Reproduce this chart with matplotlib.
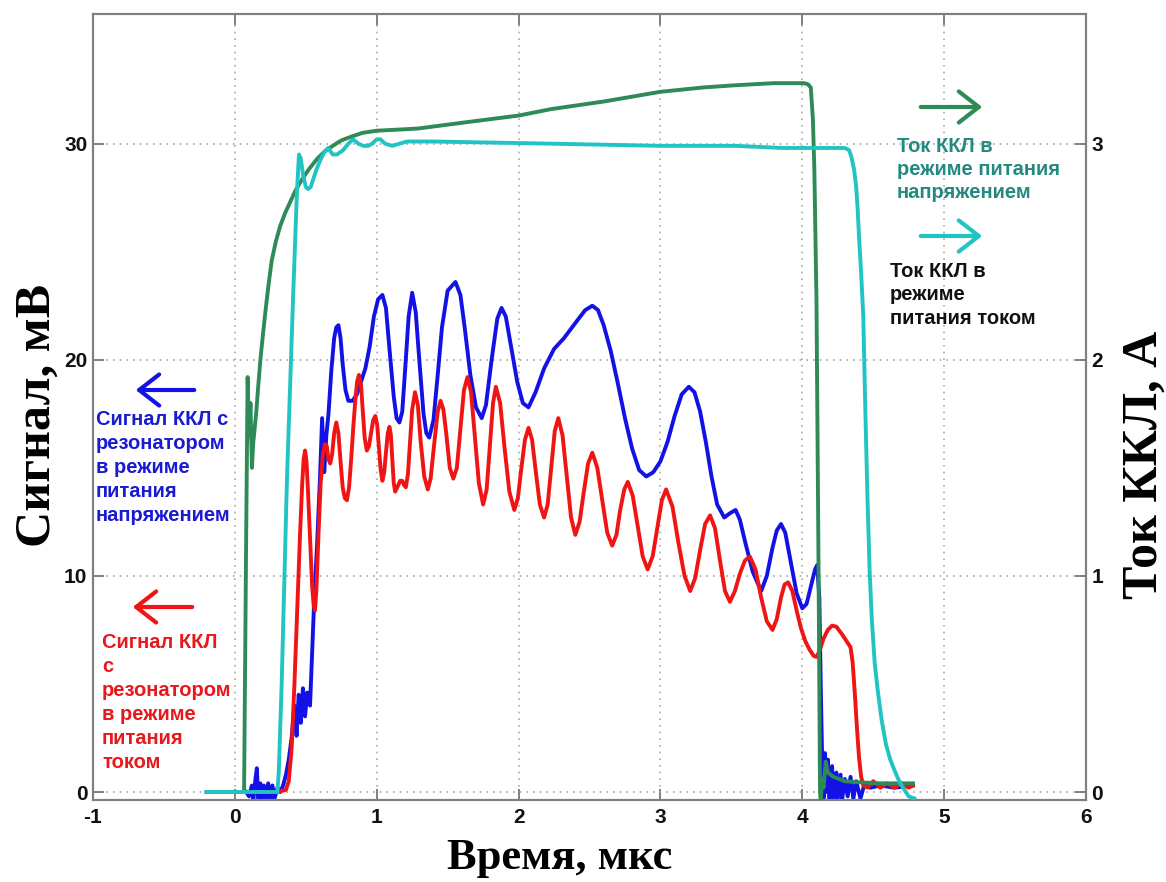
import matplotlib
matplotlib.use("Agg")
import matplotlib.pyplot as plt
from matplotlib.patches import FancyArrowPatch

plt.rcParams["axes.unicode_minus"] = False
W, H = 1166, 882

# signal, voltage-driven QCL with resonator (mV)
blue_t = [0.08, 0.10, 0.12, 0.13, 0.145, 0.155, 0.165, 0.18, 0.19, 0.205, 0.22, 0.235, 0.25, 0.265,
          0.28, 0.30, 0.32, 0.34, 0.36, 0.38, 0.40, 0.42, 0.435, 0.45, 0.465, 0.48, 0.495, 0.51,
          0.53, 0.545, 0.56, 0.58, 0.60, 0.615, 0.63, 0.645, 0.66, 0.68, 0.70, 0.715, 0.73, 0.745,
          0.76, 0.78, 0.80, 0.83, 0.86, 0.89, 0.92, 0.95, 0.98, 1.01, 1.04, 1.065, 1.09, 1.12,
          1.14, 1.16, 1.18, 1.20, 1.225, 1.25, 1.275, 1.30, 1.33, 1.35, 1.37, 1.40, 1.43, 1.46,
          1.50, 1.555, 1.59, 1.62, 1.66, 1.70, 1.74, 1.77, 1.81, 1.85, 1.88, 1.91, 1.95, 1.99,
          2.03, 2.07, 2.12, 2.18, 2.25, 2.32, 2.40, 2.47, 2.52, 2.56, 2.60, 2.65, 2.70, 2.75,
          2.80, 2.85, 2.90, 2.95, 3.00, 3.05, 3.10, 3.15, 3.20, 3.24, 3.28, 3.32, 3.36, 3.40,
          3.45, 3.49, 3.53, 3.56, 3.60, 3.65, 3.71, 3.75, 3.79, 3.82, 3.85, 3.88, 3.92, 3.96,
          4.00, 4.03, 4.06, 4.09, 4.105, 4.12, 4.13, 4.14, 4.15, 4.16, 4.17, 4.18, 4.19, 4.21,
          4.22, 4.24, 4.25, 4.27, 4.28, 4.30, 4.32, 4.34, 4.36, 4.38, 4.41, 4.44, 4.48, 4.55,
          4.65, 4.78]
blue_v = [0.0, -0.2, 0.3, -0.4, 0.6, 1.1, -0.3, 0.4, -0.4, 0.3, -0.3, 0.4, -0.4, 0.3,
          -0.3, 0.2, 0.0, 0.3, 0.8, 1.5, 2.5, 4.0, 2.6, 4.5, 3.2, 4.8, 3.5, 4.6,
          4.0, 6.5, 9.0, 11.5, 14.5, 17.3, 14.8, 16.5, 17.5, 19.5, 21.0, 21.5, 21.6, 21.0,
          19.8, 18.6, 18.1, 18.1, 18.4, 19.0, 19.6, 20.6, 22.0, 22.8, 23.0, 22.4, 20.5, 18.3,
          17.3, 17.1, 17.6, 19.5, 22.0, 23.1, 22.2, 20.0, 17.5, 16.6, 16.4, 17.2, 19.3, 21.5,
          23.2, 23.6, 23.0, 21.5, 19.3, 17.8, 17.3, 17.9, 20.0, 21.9, 22.4, 22.0, 20.5, 19.0,
          18.0, 17.8, 18.5, 19.6, 20.5, 21.0, 21.7, 22.3, 22.5, 22.3, 21.6, 20.4, 18.9, 17.3,
          15.9, 14.9, 14.6, 14.8, 15.3, 16.2, 17.4, 18.4, 18.75, 18.5, 17.6, 16.2, 14.6, 13.3,
          12.7, 12.9, 13.05, 12.6, 11.5, 10.2, 9.3, 10.0, 11.3, 12.1, 12.4, 12.0, 10.6, 9.2,
          8.5, 8.7, 9.5, 10.3, 10.5, 9.0, 5.0, 1.5, -0.3, 1.8, 0.0, 1.5, -0.4, 1.2,
          -0.5, 0.9, -0.3, 0.8, -0.4, 0.6, -0.2, 0.7, -0.3, 0.5, -0.3, 0.4, 0.2, 0.3,
          0.2, 0.3]

# signal, current-driven QCL with resonator (mV)
red_t = [0.0, 0.30, 0.36, 0.38, 0.40, 0.42, 0.44, 0.46, 0.475, 0.485, 0.495, 0.505, 0.515, 0.53,
         0.545, 0.556, 0.565, 0.575, 0.59, 0.605, 0.62, 0.635, 0.648, 0.66, 0.672, 0.685, 0.70,
         0.715, 0.73, 0.745, 0.76, 0.775, 0.79, 0.805, 0.82, 0.835, 0.85, 0.862, 0.875, 0.89,
         0.90, 0.915, 0.93, 0.945, 0.96, 0.975, 0.99, 1.003, 1.015, 1.028, 1.04, 1.053, 1.065,
         1.078, 1.09, 1.10, 1.11, 1.12, 1.13, 1.145, 1.165, 1.18, 1.193, 1.205, 1.22, 1.235,
         1.25, 1.27, 1.29, 1.31, 1.335, 1.36, 1.38, 1.405, 1.43, 1.45, 1.47, 1.49, 1.515, 1.54,
         1.565, 1.59, 1.615, 1.64, 1.665, 1.69, 1.72, 1.75, 1.775, 1.80, 1.82, 1.84, 1.87, 1.90,
         1.935, 1.97, 1.995, 2.02, 2.045, 2.07, 2.095, 2.12, 2.15, 2.18, 2.205, 2.23, 2.255,
         2.28, 2.31, 2.34, 2.37, 2.40, 2.43, 2.46, 2.49, 2.52, 2.555, 2.59, 2.625, 2.66, 2.69,
         2.715, 2.745, 2.77, 2.805, 2.84, 2.875, 2.91, 2.945, 2.98, 3.01, 3.04, 3.085, 3.125,
         3.17, 3.21, 3.245, 3.28, 3.315, 3.35, 3.385, 3.42, 3.455, 3.49, 3.525, 3.56, 3.595,
         3.63, 3.67, 3.71, 3.75, 3.79, 3.82, 3.85, 3.875, 3.90, 3.93, 3.96, 3.99, 4.02, 4.05,
         4.08, 4.10, 4.12, 4.15, 4.18, 4.21, 4.24, 4.28, 4.31, 4.34, 4.355, 4.37, 4.385, 4.40,
         4.415, 4.43, 4.46, 4.50, 4.55, 4.60, 4.65, 4.70, 4.75, 4.78]
red_v = [0.0, 0.0, 0.1, 0.5, 2.0, 5.0, 8.5, 12.0, 14.3, 15.4, 15.8, 15.3, 14.0, 11.8,
         9.5, 8.6, 8.4, 9.4, 12.0, 14.3, 15.6, 16.1, 16.0, 15.4, 15.2, 15.6, 16.6,
         17.1, 16.6, 15.3, 14.1, 13.6, 13.5, 14.1, 15.4, 16.9, 18.2, 19.0, 19.3, 18.8,
         17.8, 16.4, 15.8, 16.0, 16.6, 17.2, 17.4, 17.0, 16.0, 14.9, 14.4, 14.8, 15.7,
         16.6, 16.9, 16.5, 15.4, 14.3, 13.9, 14.1, 14.4, 14.4, 14.2, 14.1, 14.7, 16.2,
         17.7, 18.5, 17.9, 16.2, 14.6, 14.0, 14.5, 16.1, 17.6, 18.1, 17.7, 16.6, 15.0, 14.5,
         15.0, 16.8, 18.6, 19.2, 18.5, 16.6, 14.3, 13.3, 14.0, 16.2, 18.0, 18.75, 18.0, 16.0,
         13.9, 13.05, 13.6, 15.0, 16.3, 16.85, 16.3, 14.9, 13.3, 12.7, 13.3, 15.0, 16.7,
         17.3, 16.5, 14.6, 12.7, 11.9, 12.5, 13.9, 15.2, 15.7, 15.0, 13.5, 12.0, 11.4, 11.9,
         13.0, 14.0, 14.35, 13.7, 12.3, 10.9, 10.3, 10.9, 12.3, 13.5, 14.0, 13.2, 11.6,
         10.0, 9.3, 9.9, 11.2, 12.4, 12.8, 12.2, 10.7, 9.3, 8.8, 9.3, 10.1, 10.7,
         10.9, 10.3, 9.0, 7.9, 7.5, 8.0, 9.0, 9.6, 9.7, 9.3, 8.4, 7.6, 7.0, 6.6,
         6.3, 6.25, 6.5, 7.1, 7.5, 7.7, 7.65, 7.3, 7.0, 6.7, 6.0, 4.6, 3.0, 1.6,
         0.7, 0.3, 0.2, 0.5, 0.2, 0.4, 0.2, 0.4, 0.2, 0.3]

# QCL current, voltage-driven mode (A)
green_t = [-0.2, 0.065, 0.08, 0.09, 0.10, 0.11, 0.12, 0.13, 0.15, 0.165, 0.18, 0.20, 0.22, 0.24,
           0.26, 0.29, 0.32, 0.355, 0.39, 0.425, 0.46, 0.52, 0.58, 0.635, 0.69, 0.75, 0.81, 0.9,
           1.0, 1.15, 1.29, 1.64, 2.0, 2.23, 2.6, 3.0, 3.3, 3.52, 3.8, 4.01, 4.04, 4.06,
           4.075, 4.085, 4.10, 4.115, 4.125, 4.13, 4.14, 4.15, 4.165, 4.18, 4.22, 4.30, 4.40,
           4.55, 4.78]
green_i = [0.0, 0.0, 1.2, 1.92, 1.65, 1.8, 1.5, 1.62, 1.75, 1.88, 2.0, 2.13, 2.25, 2.36,
           2.46, 2.55, 2.62, 2.68, 2.73, 2.78, 2.82, 2.88, 2.93, 2.965, 2.99, 3.015, 3.03, 3.05,
           3.06, 3.065, 3.07, 3.10, 3.13, 3.16, 3.195, 3.24, 3.26, 3.27, 3.28, 3.28, 3.275, 3.26,
           3.11, 2.88, 2.28, 1.0, 0.0, -0.04, 0.06, 0.02, 0.14, 0.09, 0.07, 0.05, 0.045,
           0.04, 0.04]

# QCL current, current-driven mode (A)
cyan_t = [-0.2, 0.30, 0.31, 0.33, 0.367, 0.41, 0.425, 0.438, 0.452, 0.465, 0.48, 0.50, 0.516,
          0.535, 0.55, 0.575, 0.60, 0.63, 0.657, 0.69, 0.72, 0.763, 0.80, 0.834, 0.87, 0.905,
          0.94, 0.968, 1.0, 1.025, 1.06, 1.11, 1.16, 1.215, 1.4, 2.23, 3.0, 3.52, 3.87, 4.30,
          4.33, 4.346, 4.365, 4.38, 4.39, 4.40, 4.415, 4.43, 4.445, 4.46, 4.475, 4.49, 4.51,
          4.53, 4.56, 4.59, 4.62, 4.65, 4.69, 4.72, 4.75, 4.79]
cyan_i = [0.0, 0.0, 0.1, 0.5, 1.44, 2.28, 2.55, 2.78, 2.95, 2.93, 2.86, 2.80, 2.79,
          2.80, 2.83, 2.88, 2.92, 2.96, 2.98, 2.95, 2.95, 2.97, 3.0, 3.02, 3.0, 2.99,
          2.99, 3.0, 3.02, 3.02, 3.0, 2.99, 3.0, 3.01, 3.01, 3.0, 2.99, 2.99, 2.98, 2.98,
          2.97, 2.94, 2.88, 2.80, 2.70, 2.57, 2.40, 2.2, 1.75, 1.35, 1.02, 0.8, 0.6,
          0.48, 0.33, 0.22, 0.15, 0.10, 0.04, 0.01, -0.02, -0.03]

x_ticks = [-1, 0, 1, 2, 3, 4, 5, 6]
left_ticks = [0, 10, 20, 30]
right_ticks = [0, 1, 2, 3]

BLUE = "#1212e6"
RED = "#f01414"
GREEN = "#2e8b57"
CYAN = "#22c3c3"
SPINE = "#808080"
SANS = "Liberation Sans"
SERIF = "Liberation Serif"

fig = plt.figure(figsize=(W / 100, H / 100), dpi=100)
ax = fig.add_axes([93 / W, 1 - 800 / H, (1086 - 93) / W, (800 - 14) / H])
ax2 = ax.twinx()

ax.plot(blue_t, blue_v, color=BLUE, lw=2.8, zorder=3)
ax.plot(red_t, red_v, color=RED, lw=2.8, zorder=4)
ax2.plot(green_t, green_i, color=GREEN, lw=2.8, zorder=3)
ax2.plot(cyan_t, cyan_i, color=CYAN, lw=2.8, zorder=4)

ylo, yhi = -0.37, 36.0
ax.set_xlim(-1, 6)
ax.set_ylim(ylo, yhi)
ax2.set_ylim(ylo / 10, yhi / 10)
ax.set_xticks(x_ticks)
ax.set_yticks(left_ticks)
ax2.set_yticks(right_ticks)
ax.grid(True, color="#a8a8a8", ls=(0, (1, 3)), lw=1.2)

for a in (ax, ax2):
    for s in a.spines.values():
        s.set_color(SPINE)
        s.set_linewidth(1.5)
    a.tick_params(direction="in", length=8, width=1.4, color=SPINE, pad=4,
                  labelsize=15, labelcolor="#111111")
    for lab in a.get_xticklabels() + a.get_yticklabels():
        lab.set_fontfamily(SANS)
        lab.set_fontweight("bold")
ax.tick_params(top=True, right=False)
ax.tick_params(axis="x", pad=6)

# axis titles placed where the original has them
fig.text(560 / W, 1 - 858 / H, "Время, мкс", family=SERIF, weight="bold", fontsize=32,
         ha="center", va="center")
fig.text(38 / W, 1 - 415 / H, "Сигнал, мВ", family=SERIF, weight="bold", fontsize=36,
         ha="center", va="center", rotation=90)
fig.text(1145 / W, 1 - 465 / H, "Ток ККЛ, А", family=SERIF, weight="bold", fontsize=36,
         ha="center", va="center", rotation=90)


def arrow(x0, x1, y, color):
    fig.add_artist(FancyArrowPatch(
        (x0 / W, 1 - y / H), (x1 / W, 1 - y / H), transform=fig.transFigure,
        arrowstyle="->,head_length=9,head_width=7", mutation_scale=1.6, lw=3, color=color))


def label(x, y, s, color, ls=1.34):
    fig.text(x / W, 1 - y / H, s, color=color, family=SANS, weight="bold",
             fontsize=14.5, ha="left", va="top", linespacing=ls)


arrow(197, 133, 390, BLUE)
label(96, 410, "Сигнал ККЛ с\nрезонатором\nв режиме\nпитания\nнапряжением", "#1a1ad2")
arrow(195, 130, 607, RED)
label(102, 633, "Сигнал ККЛ\nс\nрезонатором\nв режиме\nпитания\nтоком", "#e8181c")
arrow(918, 985, 107, GREEN)
label(897, 137, "Ток ККЛ в\nрежиме питания\nнапряжением", "#248a80", ls=1.28)
arrow(918, 985, 236, CYAN)
label(890, 262, "Ток ККЛ в\nрежиме\nпитания током", "#111111", ls=1.3)

fig.savefig("out.png", dpi=100)
